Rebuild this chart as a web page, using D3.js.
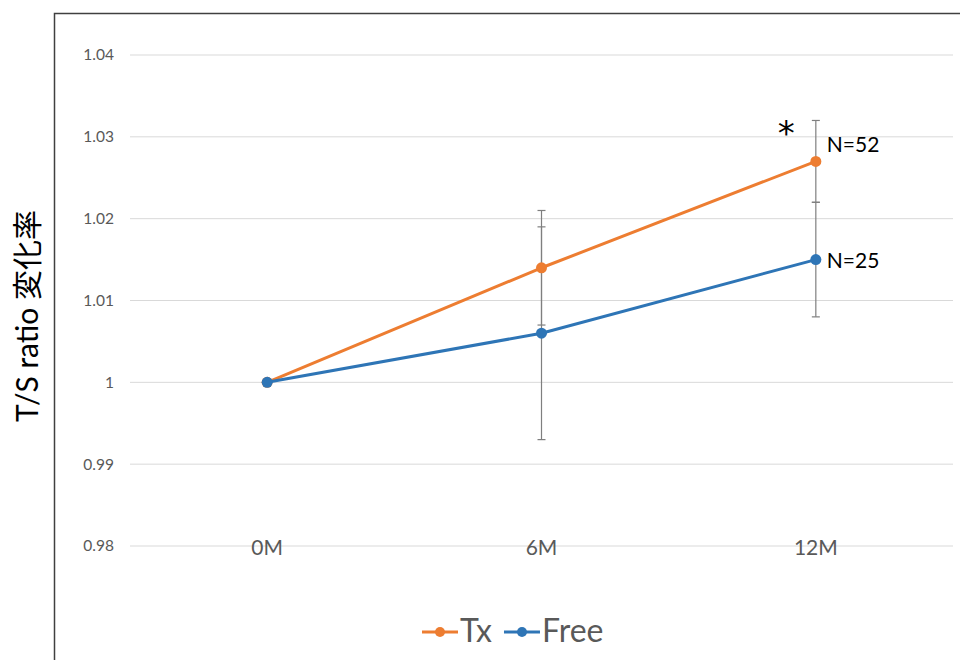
<!DOCTYPE html>
<html><head><meta charset="utf-8">
<script src="https://cdn.jsdelivr.net/npm/d3@7"></script>
<style>body{margin:0;background:#fff}</style>
</head><body>
<svg id="c" width="960" height="660"></svg>
<script>
const categories = ["0M", "6M", "12M"];
const txValues = [1.000, 1.014, 1.027];
const txErr = [0, 0.007, 0.005];
const freeValues = [1.000, 1.006, 1.015];
const freeErr = [0, 0.013, 0.007];
const yTicks = [0.98, 0.99, 1, 1.01, 1.02, 1.03, 1.04];
const nLabels = ["N=52", "N=25"];
const seriesNames = ["Tx", "Free"];

const font = "Lato, 'Noto Sans CJK JP', sans-serif";
const svg = d3.select("#c");
svg.append("rect").attr("x",54.5).attr("y",13.5).attr("width",1000).attr("height",1000)
  .attr("fill","none").attr("stroke","#404040").attr("stroke-width",1.5);

const x = d3.scaleBand().domain(categories).range([130, 953]);
const y = d3.scaleLinear().domain([0.98, 1.04]).range([546, 55]);
const cx = c => x(c) + x.bandwidth()/2;

// gridlines
svg.append("g").selectAll("line").data(yTicks).join("line")
  .attr("x1",130).attr("x2",953).attr("y1",d=>y(d)).attr("y2",d=>y(d))
  .attr("stroke","#d9d9d9").attr("stroke-width",1);

// y axis labels
const yAxis = d3.axisLeft(y).tickValues(yTicks).tickSize(0).tickPadding(0)
  .tickFormat(d => d3.format("")(+d.toFixed(2)));
const gy = svg.append("g").attr("transform","translate(114,0)").call(yAxis);
gy.select(".domain").remove();
gy.selectAll("text").attr("font-family",font).attr("font-size",15.5).attr("fill","#595959");

// x axis labels
const xAxis = d3.axisBottom(x).tickSize(0).tickPadding(0);
const gx = svg.append("g").attr("transform","translate(0,540)").call(xAxis);
gx.select(".domain").remove();
gx.selectAll("text").attr("font-family",font).attr("font-size",21).attr("fill","#595959");

const series = [
  {name: seriesNames[0], vals: txValues, err: txErr, color: "#ED7D31"},
  {name: seriesNames[1], vals: freeValues, err: freeErr, color: "#2E75B6"}
];

// error bars
series.forEach(s => {
  const g = svg.append("g");
  categories.forEach((c, i) => {
    if (!s.err[i]) return;
    const px = cx(c), y1 = y(s.vals[i] + s.err[i]), y2 = y(s.vals[i] - s.err[i]);
    g.append("line").attr("x1",px).attr("x2",px).attr("y1",y1).attr("y2",y2)
      .attr("stroke","#7f7f7f").attr("stroke-width",1.2);
    [y1, y2].forEach(yy => g.append("line").attr("x1",px-4).attr("x2",px+4)
      .attr("y1",yy).attr("y2",yy).attr("stroke","#7f7f7f").attr("stroke-width",1.2));
  });
});

// lines and markers
const line = d3.line().x((d,i)=>cx(categories[i])).y(d=>y(d));
series.forEach(s => {
  svg.append("path").datum(s.vals).attr("d",line).attr("fill","none")
    .attr("stroke",s.color).attr("stroke-width",3).attr("stroke-linejoin","round");
  svg.append("g").selectAll("circle").data(s.vals).join("circle")
    .attr("cx",(d,i)=>cx(categories[i])).attr("cy",d=>y(d)).attr("r",5.5)
    .attr("fill",s.color);
});

// annotations
const last = categories.length - 1;
svg.append("text").attr("x",cx(categories[last])+11).attr("y",y(txValues[last])-9)
  .attr("font-family",font).attr("font-size",21).attr("fill","#000").text(nLabels[0]);
svg.append("text").attr("x",cx(categories[last])+11).attr("y",y(freeValues[last])+8)
  .attr("font-family",font).attr("font-size",21).attr("fill","#000").text(nLabels[1]);
svg.append("text").attr("x",cx(categories[last])-38).attr("y",y(txValues[last]+txErr[last])+25)
  .attr("font-family","DejaVu Sans, sans-serif").attr("font-size",34).attr("fill","#000").text("*");

// y title
svg.append("text").attr("transform","translate(38,316) rotate(-90)").attr("text-anchor","middle")
  .attr("font-family",font).attr("font-size",30).attr("fill","#000").text("T/S ratio 変化率");

// legend
const leg = svg.append("g");
let lx = 422;
series.forEach(s => {
  leg.append("line").attr("x1",lx).attr("x2",lx+36).attr("y1",632).attr("y2",632)
    .attr("stroke",s.color).attr("stroke-width",3);
  leg.append("circle").attr("cx",lx+18).attr("cy",632).attr("r",5).attr("fill",s.color);
  const t = leg.append("text").attr("x",lx+38).attr("y",642).attr("font-family",font)
    .attr("font-size",32).attr("fill","#595959").text(s.name);
  lx += 38 + t.node().getComputedTextLength() + 12;
});
</script>
</body></html>
